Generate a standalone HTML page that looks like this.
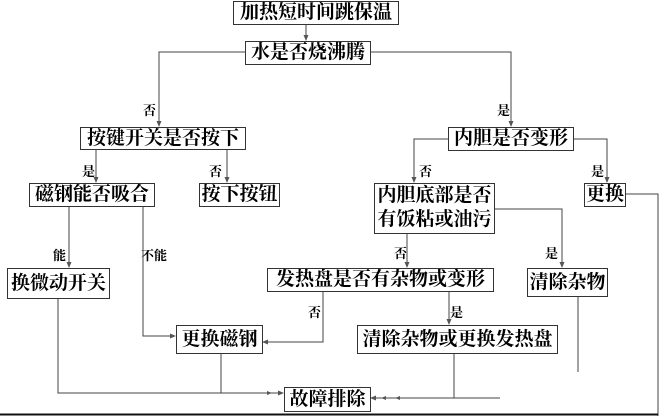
<!DOCTYPE html>
<html><head><meta charset="utf-8"><style>
html,body{margin:0;padding:0;background:#fff;}
#c{position:relative;width:672px;height:416px;overflow:hidden;background:#fff;}
.b{position:absolute;border:1px solid #333;box-sizing:border-box;font-family:"Liberation Serif","Noto Serif CJK SC",serif;font-weight:bold;font-size:19px;line-height:21px;color:#000;text-align:center;white-space:nowrap;background:#fff;}
.l{position:absolute;font-family:"Liberation Serif","Noto Serif CJK SC",serif;font-weight:bold;font-size:13px;line-height:13px;color:#000;}
svg{position:absolute;left:0;top:0;}
</style></head><body><div id="c">
<svg width="672" height="416" viewBox="0 0 672 416">
<defs><marker id="a" markerWidth="6" markerHeight="6" refX="5" refY="3" orient="auto"><path d="M0,0.5 L6,3 L0,5.5z" fill="#555"/></marker></defs>
<g stroke="#444" stroke-width="1" fill="none">
<path d="M306,24 V40" marker-end="url(#a)"/>
<path d="M245,52 H159 V126" marker-end="url(#a)"/>
<path d="M370,52 H511 V126" marker-end="url(#a)"/>
<path d="M96,149 V182" marker-end="url(#a)"/>
<path d="M227,149 V182" marker-end="url(#a)"/>
<path d="M448,139 H414 V182" marker-end="url(#a)"/>
<path d="M573,139 H607 V182" marker-end="url(#a)"/>
<path d="M625,194 H658 V416"/>
<path d="M494,209 H562 V267" marker-end="url(#a)"/>
<path d="M407,233 V267" marker-end="url(#a)"/>
<path d="M69,206 V267" marker-end="url(#a)"/>
<path d="M143,206 V336 H175" marker-end="url(#a)"/>
<path d="M323,291 V342 H263" marker-end="url(#a)"/>
<path d="M449,291 V324" marker-end="url(#a)"/>
<path d="M58,298 V393 H283" marker-end="url(#a)"/>
<path d="M221,353 V393"/>
<path d="M500,398 H371" marker-end="url(#a)"/>
<path d="M454,353 V398"/>
<path d="M578,296 V372"/>
</g>
<path d="M0,414.5 H658" stroke="#111" stroke-width="2"/>
<path d="M272,393 l-5,-2 v4z M395,398 l5,-2 v4z M381,398 l5,-2 v4z" fill="#555"/>
</svg>
<div class="b" style="left:233px;top:1px;width:166px;height:24px;">加热短时间跳保温</div>
<div class="b" style="left:245px;top:41px;width:126px;height:24px;">水是否烧沸腾</div>
<div class="b" style="left:80px;top:127px;width:166px;height:23px;">按键开关是否按下</div>
<div class="b" style="left:448px;top:127px;width:126px;height:24px;">内胆是否变形</div>
<div class="b" style="left:29px;top:183px;width:126px;height:24px;">磁钢能否吸合</div>
<div class="b" style="left:199px;top:183px;width:81px;height:24px;">按下按钮</div>
<div class="b" style="left:374px;top:183px;width:121px;height:51px;line-height:24px;">内胆底部是否<br>有饭粘或油污</div>
<div class="b" style="left:584px;top:183px;width:42px;height:24px;">更换</div>
<div class="b" style="left:7px;top:268px;width:103px;height:31px;line-height:29px;">换微动开关</div>
<div class="b" style="left:267px;top:268px;width:227px;height:24px;">发热盘是否有杂物或变形</div>
<div class="b" style="left:527px;top:268px;width:81px;height:29px;line-height:27px;">清除杂物</div>
<div class="b" style="left:176px;top:325px;width:87px;height:29px;line-height:27px;">更换磁钢</div>
<div class="b" style="left:357px;top:325px;width:201px;height:29px;line-height:27px;">清除杂物或更换发热盘</div>
<div class="b" style="left:284px;top:387px;width:87px;height:25px;line-height:23px;">故障排除</div>
<div class="l" style="left:143px;top:104px;">否</div>
<div class="l" style="left:497px;top:104px;">是</div>
<div class="l" style="left:82px;top:165px;">是</div>
<div class="l" style="left:209px;top:165px;">否</div>
<div class="l" style="left:419px;top:165px;">否</div>
<div class="l" style="left:591px;top:165px;">是</div>
<div class="l" style="left:53px;top:249px;">能</div>
<div class="l" style="left:141px;top:249px;">不能</div>
<div class="l" style="left:394px;top:247px;">否</div>
<div class="l" style="left:545px;top:247px;">是</div>
<div class="l" style="left:308px;top:306px;">否</div>
<div class="l" style="left:450px;top:306px;">是</div>
</div></body></html>
